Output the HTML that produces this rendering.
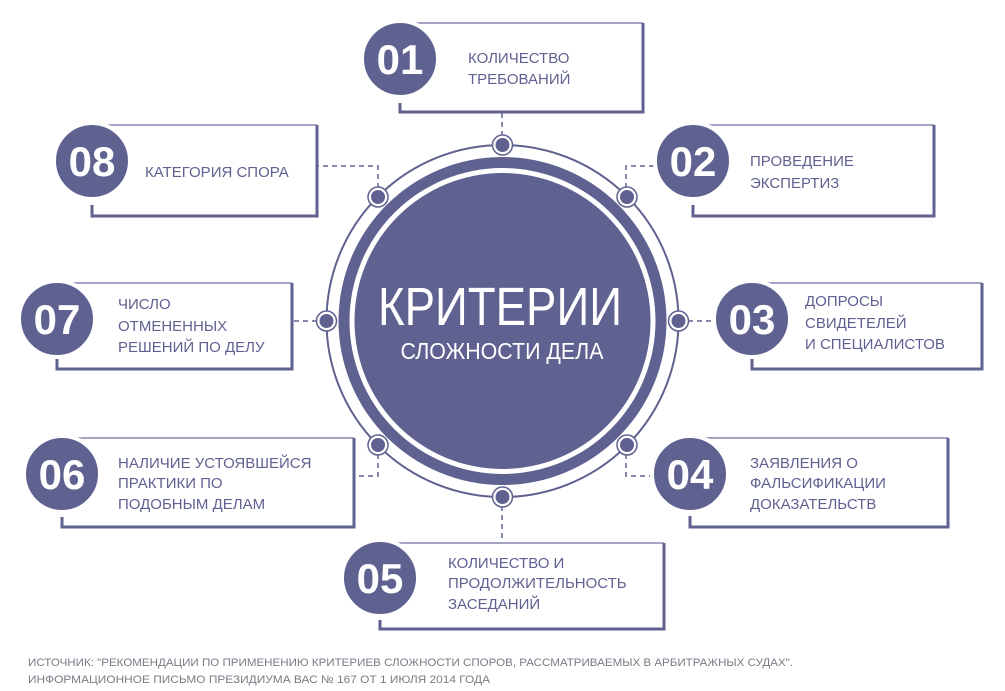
<!DOCTYPE html>
<html><head><meta charset="utf-8"><style>
html,body{margin:0;padding:0;background:#fff;}
svg{display:block;}
text{font-family:"Liberation Sans","DejaVu Sans",sans-serif;}
</style></head><body>
<svg width="1005" height="691" viewBox="0 0 1005 691" xmlns="http://www.w3.org/2000/svg">
<defs>
<g id="dot">
<circle r="10" fill="#fff" stroke="#5f6190" stroke-width="1.5"/>
<circle r="7" fill="#5f6190"/>
</g>
</defs>
<g fill="none" stroke="#5f6190" stroke-width="1.5" stroke-dasharray="5,4">
<path d="M502 145 V113"/>
<path d="M378 197 V166 H318"/>
<path d="M626 197 V166 H660"/>
<path d="M679 321 H720"/>
<path d="M326 321 H292"/>
<path d="M378 445 V476 H355"/>
<path d="M626 445 V476 H658"/>
<path d="M502 497 V543"/>
</g>
<!-- central -->
<circle cx="502.5" cy="321" r="176" fill="none" stroke="#5f6190" stroke-width="2"/>
<circle cx="502.5" cy="321" r="164" fill="#5f6190"/>
<circle cx="502.5" cy="321" r="153" fill="#fff"/>
<circle cx="502.5" cy="321" r="148" fill="#5f6190"/>
<text x="500" y="325" fill="#fff" font-size="54" text-anchor="middle" textLength="244" lengthAdjust="spacingAndGlyphs">КРИТЕРИИ</text>
<text x="502" y="359" fill="#fff" font-size="23" text-anchor="middle" textLength="203" lengthAdjust="spacingAndGlyphs">СЛОЖНОСТИ ДЕЛА</text>
<use href="#dot" x="502.5" y="145"/>
<use href="#dot" x="502.5" y="497"/>
<use href="#dot" x="326.5" y="321"/>
<use href="#dot" x="678.5" y="321"/>
<use href="#dot" x="378" y="197"/>
<use href="#dot" x="627" y="197"/>
<use href="#dot" x="378" y="445"/>
<use href="#dot" x="627" y="445"/>

<!-- boxes: left, top, right, bottom -->
<g id="boxes">
<!-- 01 -->
<path d="M400 23 H643" stroke="#a3a5c4" stroke-width="2" fill="none"/>
<path d="M643 23 V112 H400 V103" stroke="#5f6190" stroke-width="3" fill="none"/>
<circle cx="400" cy="59" r="38" fill="#5f6190" stroke="#fff" stroke-width="4"/>
<text x="400" y="74" fill="#fff" font-size="42" font-weight="bold" text-anchor="middle">01</text>
<text fill="#5f6190" font-size="15"><tspan x="468" y="63">КОЛИЧЕСТВО</tspan><tspan x="468" y="84">ТРЕБОВАНИЙ</tspan></text>
<!-- 02 -->
<path d="M693 125 H934" stroke="#a3a5c4" stroke-width="2" fill="none"/>
<path d="M934 125 V216 H693 V205" stroke="#5f6190" stroke-width="3" fill="none"/>
<circle cx="693" cy="161" r="38" fill="#5f6190" stroke="#fff" stroke-width="4"/>
<text x="693" y="176" fill="#fff" font-size="42" font-weight="bold" text-anchor="middle">02</text>
<text fill="#5f6190" font-size="15"><tspan x="750" y="166">ПРОВЕДЕНИЕ</tspan><tspan x="750" y="188">ЭКСПЕРТИЗ</tspan></text>
<!-- 03 -->
<path d="M752 283 H982" stroke="#a3a5c4" stroke-width="2" fill="none"/>
<path d="M982 283 V369 H752 V359" stroke="#5f6190" stroke-width="3" fill="none"/>
<circle cx="752" cy="319" r="38" fill="#5f6190" stroke="#fff" stroke-width="4"/>
<text x="752" y="334" fill="#fff" font-size="42" font-weight="bold" text-anchor="middle">03</text>
<text fill="#5f6190" font-size="15"><tspan x="805" y="306">ДОПРОСЫ</tspan><tspan x="805" y="328">СВИДЕТЕЛЕЙ</tspan><tspan x="805" y="349">И СПЕЦИАЛИСТОВ</tspan></text>
<!-- 04 -->
<path d="M690 438 H948" stroke="#a3a5c4" stroke-width="2" fill="none"/>
<path d="M948 438 V527 H690 V516" stroke="#5f6190" stroke-width="3" fill="none"/>
<circle cx="690" cy="474" r="38" fill="#5f6190" stroke="#fff" stroke-width="4"/>
<text x="690" y="489" fill="#fff" font-size="42" font-weight="bold" text-anchor="middle">04</text>
<text fill="#5f6190" font-size="15"><tspan x="750" y="468">ЗАЯВЛЕНИЯ О</tspan><tspan x="750" y="488">ФАЛЬСИФИКАЦИИ</tspan><tspan x="750" y="509">ДОКАЗАТЕЛЬСТВ</tspan></text>
<!-- 05 -->
<path d="M380 543 H664" stroke="#a3a5c4" stroke-width="2" fill="none"/>
<path d="M664 543 V629 H380 V620" stroke="#5f6190" stroke-width="3" fill="none"/>
<circle cx="380" cy="578" r="38" fill="#5f6190" stroke="#fff" stroke-width="4"/>
<text x="380" y="593" fill="#fff" font-size="42" font-weight="bold" text-anchor="middle">05</text>
<text fill="#5f6190" font-size="15"><tspan x="448" y="568">КОЛИЧЕСТВО И</tspan><tspan x="448" y="588">ПРОДОЛЖИТЕЛЬНОСТЬ</tspan><tspan x="448" y="609">ЗАСЕДАНИЙ</tspan></text>
<!-- 06 -->
<path d="M62 438 H354" stroke="#a3a5c4" stroke-width="2" fill="none"/>
<path d="M354 438 V527 H62 V517" stroke="#5f6190" stroke-width="3" fill="none"/>
<circle cx="62" cy="474" r="38" fill="#5f6190" stroke="#fff" stroke-width="4"/>
<text x="62" y="489" fill="#fff" font-size="42" font-weight="bold" text-anchor="middle">06</text>
<text fill="#5f6190" font-size="15"><tspan x="118" y="468">НАЛИЧИЕ УСТОЯВШЕЙСЯ</tspan><tspan x="118" y="488">ПРАКТИКИ ПО</tspan><tspan x="118" y="509">ПОДОБНЫМ ДЕЛАМ</tspan></text>
<!-- 07 -->
<path d="M57 283 H292" stroke="#a3a5c4" stroke-width="2" fill="none"/>
<path d="M292 283 V369 H57 V359" stroke="#5f6190" stroke-width="3" fill="none"/>
<circle cx="57" cy="319" r="38" fill="#5f6190" stroke="#fff" stroke-width="4"/>
<text x="57" y="334" fill="#fff" font-size="42" font-weight="bold" text-anchor="middle">07</text>
<text fill="#5f6190" font-size="15"><tspan x="118" y="309">ЧИСЛО</tspan><tspan x="118" y="331">ОТМЕНЕННЫХ</tspan><tspan x="118" y="352">РЕШЕНИЙ ПО ДЕЛУ</tspan></text>
<!-- 08 -->
<path d="M92 125 H317" stroke="#a3a5c4" stroke-width="2" fill="none"/>
<path d="M317 125 V216 H92 V205" stroke="#5f6190" stroke-width="3" fill="none"/>
<circle cx="92" cy="161" r="38" fill="#5f6190" stroke="#fff" stroke-width="4"/>
<text x="92" y="176" fill="#fff" font-size="42" font-weight="bold" text-anchor="middle">08</text>
<text fill="#5f6190" font-size="15"><tspan x="145" y="177">КАТЕГОРИЯ СПОРА</tspan></text>
</g>
<text x="28" y="666" fill="#7a7a86" font-size="11" textLength="765" lengthAdjust="spacingAndGlyphs">ИСТОЧНИК: "РЕКОМЕНДАЦИИ ПО ПРИМЕНЕНИЮ КРИТЕРИЕВ СЛОЖНОСТИ СПОРОВ, РАССМАТРИВАЕМЫХ В АРБИТРАЖНЫХ СУДАХ".</text>
<text x="28" y="683" fill="#7a7a86" font-size="11" textLength="462" lengthAdjust="spacingAndGlyphs">ИНФОРМАЦИОННОЕ ПИСЬМО ПРЕЗИДИУМА ВАС № 167 ОТ 1 ИЮЛЯ 2014 ГОДА</text>
</svg>
</body></html>
